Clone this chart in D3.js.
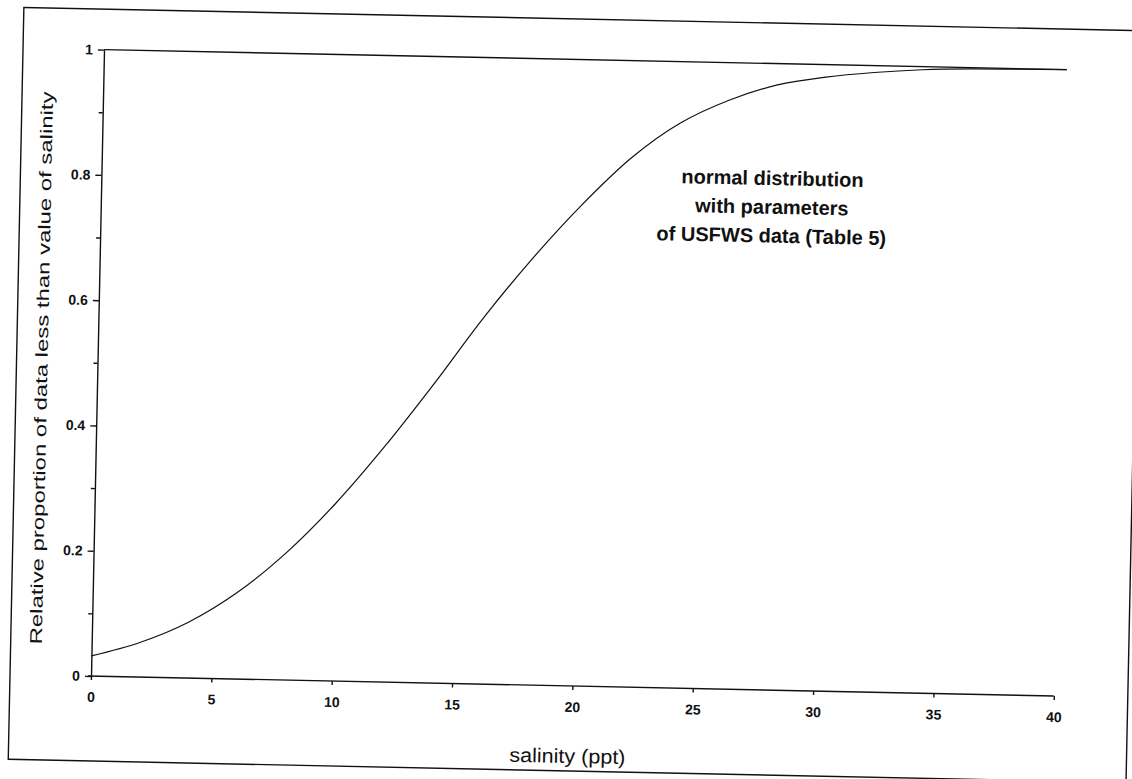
<!DOCTYPE html>
<html lang="en">
<head>
  <meta charset="UTF-8">
  <title>Salinity normal distribution</title>
  <style>
    body { margin: 0; background: #fff; }
    text { font-family: Arial, "Liberation Sans", sans-serif; fill: #111; }
  </style>
</head>
<body>

  <script src="https://d3js.org/d3.v7.min.js"></script>

  <script>
    // values
    let salinity = [0, 2, 4, 6, 8, 10, 12, 14, 16, 18, 20, 22, 24, 26, 28, 30, 32, 34, 36, 38, 40];
    let proportion = [0.032, 0.055, 0.089, 0.138, 0.203, 0.283, 0.376, 0.478, 0.585, 0.682, 0.769,
                      0.845, 0.902, 0.940, 0.966, 0.980, 0.989, 0.995, 0.998, 0.999, 1.0];

    let xTicks = [0, 5, 10, 15, 20, 25, 30, 35, 40];
    let yTicks = [0, 0.2, 0.4, 0.6, 0.8, 1];
    let yTickLabels = ["0", "0.2", "0.4", "0.6", "0.8", "1"];
    let yMinorTicks = [0.1, 0.3, 0.5, 0.7, 0.9];

    let noteLines = ["normal distribution", "with parameters", "of USFWS data (Table 5)"];
    let xTitle = "salinity (ppt)";
    let yTitle = "Relative proportion of data less than value of salinity";

    let svgWidth = 1132;
    let svgHeight = 779;

    let plotLeft = 91;
    let plotRight = 1054;
    let plotTop = 49.5;
    let plotBottom = 676;

    // the page was scanned a little crooked, so turn everything about the origin
    let tilt = 1.19;

    let svg = d3.select("body")
      .append("svg")
      .attr("width", svgWidth)
      .attr("height", svgHeight);

    let group = svg
      .append("g")
      .attr("transform", "rotate(" + tilt + "," + plotLeft + "," + plotBottom + ")");

    // outer chart frame
    group.append("rect")
      .attr("x", 10)
      .attr("y", 9)
      .attr("width", 1118)
      .attr("height", 752)
      .attr("fill", "none")
      .attr("stroke", "#111")
      .attr("stroke-width", 1.4);

    let x = d3.scaleLinear().domain([0, 40]).range([plotLeft, plotRight]);
    let y = d3.scaleLinear().domain([0, 1]).range([plotBottom, plotTop]);

    // top border of the plot area
    group.append("line")
      .attr("x1", x(0))
      .attr("y1", y(1))
      .attr("x2", x(40))
      .attr("y2", y(1))
      .attr("stroke", "#111")
      .attr("stroke-width", 1.4);

    let xAxis = group.append("g")
      .attr("transform", "translate(0," + plotBottom + ")")
      .call(d3.axisBottom(x)
        .tickValues(xTicks)
        .tickSize(4)
        .tickSizeOuter(0)
        .tickPadding(12));

    // the scanned x axis pokes out a little left of the y axis
    xAxis.select(".domain")
      .attr("d", "M" + (plotLeft - 3) + ",0H" + plotRight);

    let yAxis = group.append("g")
      .attr("transform", "translate(" + plotLeft + ",0)")
      .call(d3.axisLeft(y)
        .tickValues(yTicks)
        .tickFormat(function(d, i) { return yTickLabels[i]; })
        .tickSize(6)
        .tickSizeOuter(0)
        .tickPadding(5));

    let yMinor = group.append("g")
      .attr("transform", "translate(" + plotLeft + ",0)")
      .call(d3.axisLeft(y)
        .tickValues(yMinorTicks)
        .tickFormat("")
        .tickSize(4)
        .tickSizeOuter(0));
    yMinor.select(".domain").remove();

    group.selectAll(".domain, .tick line")
      .attr("stroke", "#111")
      .attr("stroke-width", 1.4);

    group.selectAll(".tick text")
      .style("font-family", "Arial, 'Liberation Sans', sans-serif")
      .style("font-size", "14px")
      .style("font-weight", "bold")
      .attr("fill", "#111");

    // the curve
    let line = d3.line()
      .x(function(d, i) { return x(salinity[i]); })
      .y(function(d) { return y(d); })
      .curve(d3.curveCatmullRom.alpha(0.5));

    group.append("path")
      .datum(proportion)
      .attr("d", line)
      .attr("fill", "none")
      .attr("stroke", "#111")
      .attr("stroke-width", 1.2);

    // axis titles (the scan stretched the lettering, hence textLength)
    group.append("text")
      .attr("x", 569)
      .attr("y", 753)
      .attr("text-anchor", "middle")
      .attr("textLength", 116)
      .attr("lengthAdjust", "spacingAndGlyphs")
      .style("font-size", "20px")
      .text(xTitle);

    group.append("text")
      .attr("transform", "translate(41,369) rotate(-90)")
      .attr("text-anchor", "middle")
      .attr("textLength", 553)
      .attr("lengthAdjust", "spacingAndGlyphs")
      .style("font-size", "17px")
      .text(yTitle);

    // note
    group.selectAll(".note")
      .data(noteLines)
      .enter()
      .append("text")
      .attr("class", "note")
      .attr("x", 762)
      .attr("y", function(d, i) { return 171 + i * 28.8; })
      .attr("text-anchor", "middle")
      .style("font-size", "20px")
      .style("font-weight", "bold")
      .text(function(d) { return d; });
  </script>
</body>
</html>
